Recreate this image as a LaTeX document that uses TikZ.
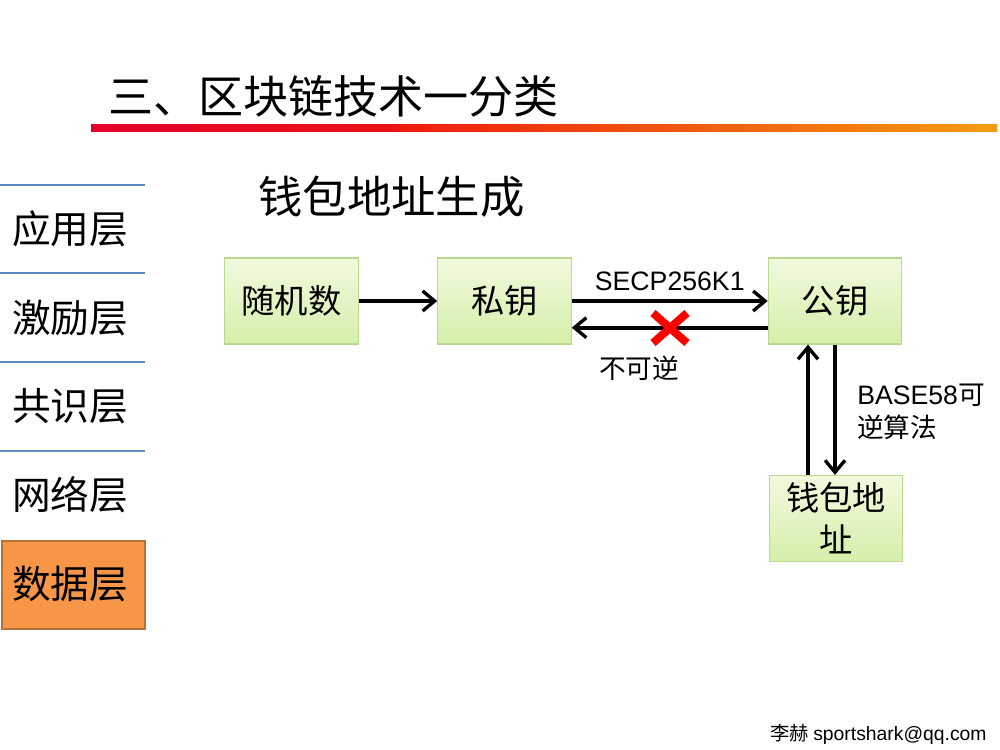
\documentclass[tikz,border=0pt]{standalone}
\usepackage{fontspec}
\setmainfont{Noto Sans CJK SC}
\newfontfamily\latinfont{Liberation Sans}
\usetikzlibrary{arrows.meta}
\definecolor{boxline}{HTML}{B9D98E}
\definecolor{boxtop}{HTML}{F1FADE}
\definecolor{boxbot}{HTML}{D5EFAA}
\definecolor{layerline}{HTML}{5F8BC3}
\definecolor{datafill}{HTML}{F79646}
\definecolor{dataline}{HTML}{B5723A}
\definecolor{barred}{HTML}{E4002B}
\definecolor{barmid}{HTML}{EE1C0C}
\definecolor{barorange}{HTML}{F39C12}
\newcommand{\fs}[2]{\fontsize{#1}{#2}\selectfont}
\tikzset{
  stagebox/.style={draw=boxline, line width=0.9pt, top color=boxtop, bottom color=boxbot,
    minimum width=100pt, minimum height=64.5pt, inner sep=0pt, align=center,
    font=\fs{25}{31.5}},
  flow/.style={line width=2.8pt, -{Straight Barb[length=9pt,width=15pt,line width=2.5pt]}},
  layertext/.style={font=\fs{29}{29}, anchor=west, inner sep=0pt},
  layerrule/.style={draw=layerline, line width=1.6pt},
}
\begin{document}
\begin{tikzpicture}[x=0.75pt,y=-0.75pt]
\useasboundingbox (0,0) rectangle (1000,750);
\fill[white] (0,0) rectangle (1000,750);

% heading and coloured rule
\node[anchor=west, inner sep=0pt, font=\fs{33.8}{34}] (title) at (108,96) {三、区块链技术一分类};
\shade[left color=barred, right color=barorange, middle color=barmid] (91,124) rectangle (997,131);
\shade[left color=barmid, right color=barorange] (400,124) rectangle (997,131);

% layer menu
\draw[layerrule] (0,185) -- (145,185);
\draw[layerrule] (0,273) -- (145,273);
\draw[layerrule] (0,362) -- (145,362);
\draw[layerrule] (0,451) -- (145,451);
\node[layertext] (l1) at (12,229) {应用层};
\node[layertext] (l2) at (12,318) {激励层};
\node[layertext] (l3) at (12,406) {共识层};
\node[layertext] (l4) at (12,495) {网络层};
\draw[fill=datafill, draw=dataline, line width=1.5pt] (2,541) rectangle (145,629);
\node[layertext] (l5) at (12,584) {数据层};

% subtitle
\node[anchor=west, inner sep=0pt, font=\fs{33.3}{34}] (sub) at (258,197) {钱包地址生成};

% key derivation chain
\node[stagebox] (rand) at (291.5,301) {随机数};
\node[stagebox] (priv) at (504.5,301) {私钥};
\node[stagebox] (pub) at (835,301) {公钥};
\node[stagebox] (addr) at (836,518.5) {钱包地\\址};

\draw[flow] (rand.east) -- (priv.west);
\draw[flow] (priv.east) -- node[above=3pt, font=\latinfont\fs{20}{20}] (secp) {SECP256K1} (pub.west);
\draw[flow] ([yshift=-20pt]pub.west) -- ([yshift=-20pt]priv.east);
\coordinate (xc) at (670,328);
\draw[red, line width=6pt] ([shift={(-17,-15)}]xc) -- ([shift={(17,15)}]xc);
\draw[red, line width=6pt] ([shift={(-17,15)}]xc) -- ([shift={(17,-15)}]xc);
\node[font=\fs{20}{20}, inner sep=0pt] (irrev) at (639,368) {不可逆};

\draw[flow] (addr.north -| 808,0) -- (pub.south -| 808,0);
\draw[flow] (pub.south -| 835,0) -- (addr.north -| 835,0);
\node[anchor=north west, align=left, inner sep=0pt, font=\fs{20}{24.75}] (b58) at (857,384) {{\latinfont BASE58}可\\逆算法};

% footer
\node[anchor=west, inner sep=0pt, font=\fs{14.5}{15}] (foot) at (770,734) {李赫 {\latinfont sportshark@qq.com}};
\end{tikzpicture}
\end{document}
